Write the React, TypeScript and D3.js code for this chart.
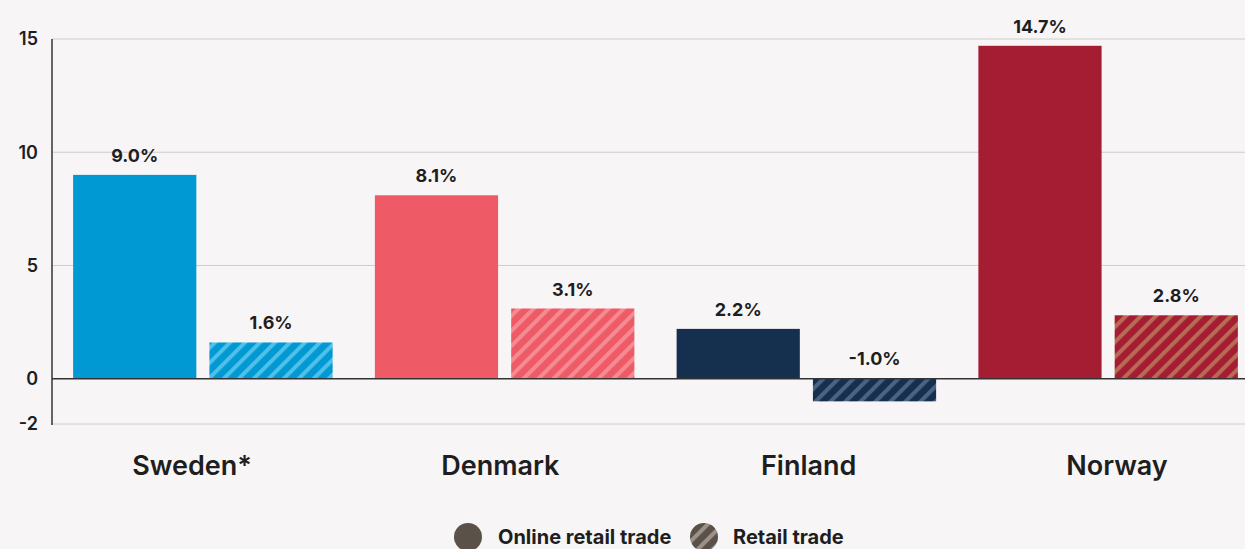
import React from "react";
import * as d3 from "d3";

const countries = ["Sweden*", "Denmark", "Finland", "Norway"];
const onlineValues = [9.0, 8.1, 2.2, 14.7];
const retailValues = [1.6, 3.1, -1.0, 2.8];
const seriesNames = ["Online retail trade", "Retail trade"];
const yTicks = [-2, 0, 5, 10, 15];
const baseColors = ["#0099d3", "#ee5a65", "#15304f", "#a51d33"];
const stripeColors = ["#4fc0e8", "#f58a92", "#4c6285", "#b96a55"];
const legendColor = "#5a5148";
const legendStripe = "#9b9189";

const W = 1245;
const H = 549;
const FONT = "Inter, 'Noto Sans', sans-serif";

export default function App() {
  const x0 = d3.scaleBand<string>().domain(countries).range([52, 1259]).paddingInner(0.14).paddingOuter(0.07);
  const x1 = d3.scaleBand<string>().domain(["online", "retail"]).range([0, x0.bandwidth()]).paddingInner(0.096).paddingOuter(0);
  const xLabel = d3.scalePoint<string>().domain(countries).range([192, 1117]);
  const y = d3.scaleLinear().domain([-2, 15]).range([424, 39]);
  const fmt = (v: number) => v.toFixed(1) + "%";

  return (
    <svg width={W} height={H} style={{ position: "fixed", left: 0, top: 0, background: "#f7f5f6" }} fontFamily={FONT}>
      <defs>
        {baseColors.map((c, i) => (
          <pattern key={i} id={`hatch${i}`} patternUnits="userSpaceOnUse" width={10.6} height={10.6} patternTransform="rotate(45)">
            <rect width={10.6} height={10.6} fill={c} />
            <rect width={4} height={10.6} fill={stripeColors[i]} />
          </pattern>
        ))}
        <pattern id="hatchLegend" patternUnits="userSpaceOnUse" width={10.6} height={10.6} patternTransform="rotate(45)">
          <rect width={10.6} height={10.6} fill={legendColor} />
          <rect width={4} height={10.6} fill={legendStripe} />
        </pattern>
      </defs>
      <rect width={W} height={H} fill="#f7f5f6" />
      {yTicks.filter((t) => t !== 0).map((t) => (
        <line key={t} x1={52} x2={W} y1={y(t)} y2={y(t)} stroke="#cfcccd" strokeWidth={1} />
      ))}
      {yTicks.map((t) => (
        <text key={t} x={38} y={y(t)} dy="0.35em" textAnchor="end" fontSize={18} fontWeight={600} fill="#1e1e1e">
          {t}
        </text>
      ))}
      {countries.map((c, i) => {
        const gx = x0(c)!;
        const vals = [onlineValues[i], retailValues[i]];
        return (
          <g key={c}>
            {vals.map((v, j) => {
              const key = j === 0 ? "online" : "retail";
              const bx = gx + x1(key)!;
              const top = y(Math.max(v, 0));
              const h = Math.abs(y(v) - y(0));
              const labelY = v >= 0 ? y(v) - 13 : y(0) - 14;
              return (
                <g key={key}>
                  <rect x={bx} y={top} width={x1.bandwidth()} height={h} fill={j === 0 ? baseColors[i] : `url(#hatch${i})`} />
                  <text x={bx + x1.bandwidth() / 2} y={labelY} textAnchor="middle" fontSize={18} fontWeight={700} fill="#1e1e1e">
                    {fmt(v)}
                  </text>
                </g>
              );
            })}
            <text x={xLabel(c)!} y={475} textAnchor="middle" fontSize={27} fontWeight={600} fill="#1e1e1e">
              {c}
            </text>
          </g>
        );
      })}
      <line x1={52} x2={W} y1={y(0)} y2={y(0)} stroke="#333" strokeWidth={1.5} />
      <line x1={52} x2={52} y1={39} y2={425} stroke="#333" strokeWidth={1.5} />
      <g>
        <circle cx={468} cy={537} r={14} fill={legendColor} />
        <text x={498} y={544} fontSize={20} fontWeight={700} fill="#1e1e1e">{seriesNames[0]}</text>
        <circle cx={704} cy={537} r={14} fill="url(#hatchLegend)" />
        <text x={733} y={544} fontSize={20} fontWeight={700} fill="#1e1e1e">{seriesNames[1]}</text>
      </g>
    </svg>
  );
}
